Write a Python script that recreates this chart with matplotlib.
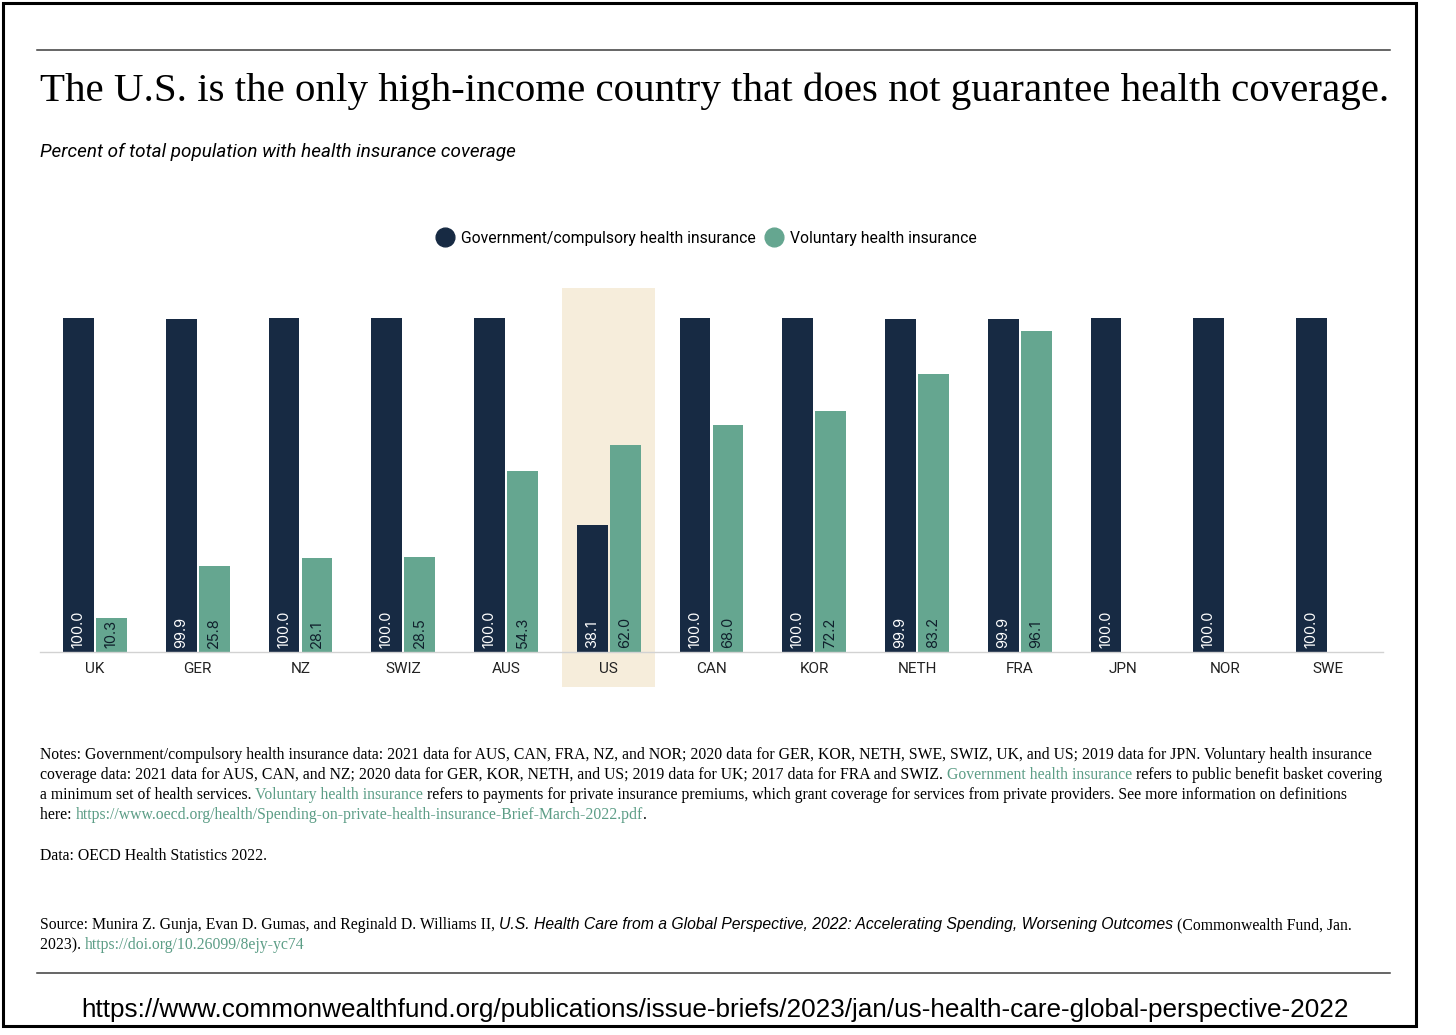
import numpy as np
import matplotlib
matplotlib.use("Agg")
import matplotlib.pyplot as plt
from matplotlib.patches import Rectangle
from matplotlib.lines import Line2D

countries = ["UK", "GER", "NZ", "SWIZ", "AUS", "US", "CAN", "KOR", "NETH", "FRA", "JPN", "NOR", "SWE"]
government = [100.0, 99.9, 100.0, 100.0, 100.0, 38.1, 100.0, 100.0, 99.9, 99.9, 100.0, 100.0, 100.0]
voluntary = [10.3, 25.8, 28.1, 28.5, 54.3, 62.0, 68.0, 72.2, 83.2, 96.1, None, None, None]
highlight = "US"

NAVY = "#172a43"
GREEN = "#65a690"
LINK = "#5c9d86"
BEIGE = "#f6eddb"

W, H = 1456, 1035
fig = plt.figure(figsize=(W / 100, H / 100), dpi=100)
renderer = fig.canvas.get_renderer()


def fx(px):
    return px / W


def fy(py):
    return 1 - py / H


def text_width(s, size, **kw):
    # measure with a trailing marker so trailing spaces count
    t = fig.text(0, 0, s + "|", fontsize=size, **kw)
    w1 = t.get_window_extent(renderer).width
    t.set_text("|")
    w2 = t.get_window_extent(renderer).width
    t.remove()
    return w1 - w2


def fit_size(s, target, **kw):
    return 10 * target / text_width(s, 10, **kw)


def draw_runs(x, y, runs, size):
    for s, color, kw in runs:
        fig.text(fx(x), fy(y), s, color=color, fontsize=size, va="baseline", **kw)
        x += text_width(s, size, **kw)


# frame and rules
fig.add_artist(Rectangle((fx(3), fy(1026)), fx(1413), 1023 / H, transform=fig.transFigure,
                         fill=False, ec="black", lw=2.2))
for yy in (50, 973):
    fig.add_artist(Line2D([fx(37), fx(1390)], [fy(yy), fy(yy)], color="#3c3c3c", lw=1.1))

# title and subtitle
serif = dict(family="Liberation Serif")
title = "The U.S. is the only high-income country that does not guarantee health coverage."
fig.text(fx(40), fy(101), title, fontsize=fit_size(title, 1350, **serif), va="baseline", **serif)
subtitle = "Percent of total population with health insurance coverage"
fig.text(fx(40), fy(157), subtitle, style="italic", family="Roboto", va="baseline",
         fontsize=fit_size(subtitle, 473, style="italic", family="Roboto"))

# bars
ax = fig.add_axes([fx(40), fy(652), (1383 - 40) / W, 367 / H])
x = np.arange(len(countries))
bw, off = 0.30, 0.16
hi = countries.index(highlight)
ax.add_patch(Rectangle((hi - 0.455, -10.5), 0.91, 119.5, color=BEIGE, zorder=0, clip_on=False, lw=0))
ax.bar(x - off, government, bw, color=NAVY, zorder=2)
for i, v in enumerate(government):
    ax.text(x[i] - off, 1.2, f"{v:.1f}", rotation=90, ha="center", va="bottom",
            color="white", fontsize=10.5, family="Inter", zorder=3)
vx = [x[i] + off for i, v in enumerate(voluntary) if v is not None]
vv = [v for v in voluntary if v is not None]
ax.bar(vx, vv, bw, color=GREEN, zorder=2)
for xi, v in zip(vx, vv):
    ax.text(xi, 1.2, f"{v:.1f}", rotation=90, ha="center", va="bottom",
            color="#10202c", fontsize=10.5, family="Inter", zorder=3)

ax.set_xlim(-0.535, len(countries) - 0.465)
ax.set_ylim(0, 110)
ax.set_xticks(x)
ax.set_xticklabels(countries, fontsize=11, family="Roboto", color="#222222")
ax.tick_params(axis="x", length=0, pad=7)
ax.set_yticks([])
for s in ("left", "right", "top"):
    ax.spines[s].set_visible(False)
ax.spines["bottom"].set_color("#d2d2d2")
ax.spines["bottom"].set_linewidth(1)
ax.patch.set_alpha(0)

# legend
handles = [Line2D([], [], marker="o", ls="", ms=13.5, color=NAVY),
           Line2D([], [], marker="o", ls="", ms=13.5, color=GREEN)]
fig.legend(handles, ["Government/compulsory health insurance", "Voluntary health insurance"],
           loc="center", bbox_to_anchor=(fx(707), fy(238)), ncol=2, frameon=False,
           handlelength=1, handletextpad=0.5, columnspacing=0.7,
           prop=dict(family="Roboto", size=11.3))

# notes
k = "black"
ital = dict(family="Liberation Sans", style="italic")
line1 = ("Notes: Government/compulsory health insurance data: 2021 data for AUS, CAN, FRA, NZ, and NOR; "
         "2020 data for GER, KOR, NETH, SWE, SWIZ, UK, and US; 2019 data for JPN. Voluntary health insurance")
ns = fit_size(line1, 1341, **serif)
note_lines = [
    [(line1, k, serif)],
    [("coverage data: 2021 data for AUS, CAN, and NZ; 2020 data for GER, KOR, NETH, and US; 2019 data for UK; "
      "2017 data for FRA and SWIZ. ", k, serif),
     ("Government health insurance", LINK, serif),
     (" refers to public benefit basket covering", k, serif)],
    [("a minimum set of health services. ", k, serif),
     ("Voluntary health insurance", LINK, serif),
     (" refers to payments for private insurance premiums, which grant coverage for services from "
      "private providers. See more information on definitions", k, serif)],
    [("here: ", k, serif),
     ("https://www.oecd.org/health/Spending-on-private-health-insurance-Brief-March-2022.pdf", LINK, serif),
     (".", k, serif)],
]
for j, runs in enumerate(note_lines):
    draw_runs(40, 759 + 20 * j, runs, ns)
draw_runs(40, 860, [("Data: OECD Health Statistics 2022.", k, serif)], ns)
draw_runs(40, 929, [("Source: Munira Z. Gunja, Evan D. Gumas, and Reginald D. Williams II, ", k, serif),
                    ("U.S. Health Care from a Global Perspective, 2022: Accelerating Spending, Worsening Outcomes",
                     k, ital),
                    (" (Commonwealth Fund, Jan.", k, serif)], ns)
draw_runs(40, 949, [("2023). ", k, serif), ("https://doi.org/10.26099/8ejy-yc74", LINK, serif)], ns)

url = "https://www.commonwealthfund.org/publications/issue-briefs/2023/jan/us-health-care-global-perspective-2022"
sans = dict(family="Liberation Sans")
fig.text(fx(715), fy(1017), url, ha="center", va="baseline", fontsize=fit_size(url, 1274, **sans), **sans)

fig.savefig("out.png", dpi=100, facecolor="white")
